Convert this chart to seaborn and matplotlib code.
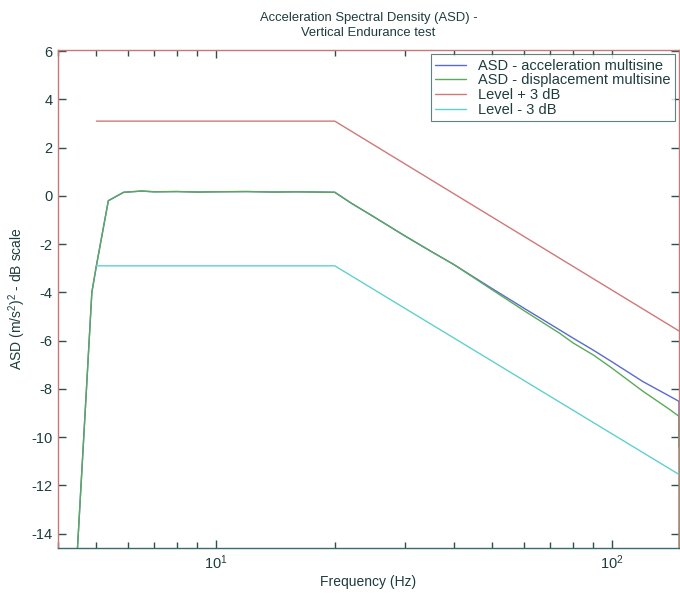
import numpy as np
import pandas as pd
import matplotlib
matplotlib.use("Agg")
import matplotlib.pyplot as plt
from matplotlib.ticker import LogLocator, NullFormatter, FixedLocator
import seaborn as sns

# ---- data ----
freq_acc = [4.48, 4.72, 4.87, 5.0, 5.36, 5.86, 6.5, 7.0, 8.0, 9.0, 10.0, 12.0, 14.0,
            16.0, 18.0, 20.0, 22.0, 25.0, 30.0, 35.0, 40.0, 50.0, 60.0, 74.0, 80.0,
            90.0, 100.0, 120.0, 140.0, 148.0, 148.0]
asd_acc = [-14.6, -8.0, -4.0, -2.9, -0.2, 0.15, 0.2, 0.17, 0.18, 0.16, 0.17, 0.18, 0.16,
           0.17, 0.16, 0.15, -0.3, -0.85, -1.65, -2.3, -2.85, -3.85, -4.65, -5.56, -5.9,
           -6.4, -6.87, -7.7, -8.3, -8.52, -10.4]

freq_disp = [4.48, 4.72, 4.87, 5.0, 5.36, 5.86, 6.5, 7.0, 8.0, 9.0, 10.0, 12.0, 14.0,
             16.0, 18.0, 20.0, 22.0, 25.0, 30.0, 35.0, 40.0, 50.0, 60.0, 74.0, 80.0,
             90.0, 100.0, 120.0, 140.0, 148.0, 148.0]
asd_disp = [-14.6, -8.0, -4.0, -2.9, -0.2, 0.15, 0.2, 0.17, 0.18, 0.16, 0.17, 0.18, 0.16,
            0.17, 0.16, 0.15, -0.3, -0.85, -1.65, -2.3, -2.85, -3.9, -4.75, -5.7, -6.1,
            -6.6, -7.13, -8.1, -8.85, -9.14, -14.6]

freq_level = [5.0, 20.0, 148.0]
level_plus = [3.1, 3.1, -5.6]
level_minus = [-2.9, -2.9, -11.55]

labels = ["ASD - acceleration multisine", "ASD - displacement multisine",
          "Level + 3 dB", "Level - 3 dB"]
colors = ["#5a6ad0", "#5aaa5a", "#d07878", "#5fd0d0"]

y_ticks = [-14, -12, -10, -8, -6, -4, -2, 0, 2, 4, 6]

# ---- plot ----
txt = "#1e3c3c"
sns.set_style("ticks")
plt.rcParams["font.family"] = ["Liberation Sans", "DejaVu Sans"]
plt.rcParams["mathtext.fontset"] = "custom"
plt.rcParams["mathtext.rm"] = "Liberation Sans"
plt.rcParams["mathtext.it"] = "Liberation Sans:italic"
plt.rcParams["axes.unicode_minus"] = False

fig = plt.figure(figsize=(6.8, 5.93), dpi=100)
ax = fig.add_axes([0.0853, 0.0759, 0.9132, 0.8398])

series = [(freq_acc, asd_acc), (freq_disp, asd_disp),
          (freq_level, level_plus), (freq_level, level_minus)]
for (fx, fy), lab, col in zip(series, labels, colors):
    df = pd.DataFrame({"f": fx, "v": fy})
    sns.lineplot(data=df, x="f", y="v", ax=ax, color=col, label=lab,
                 estimator=None, sort=False, linewidth=1.0)

ax.set_xscale("log")
ax.set_xlim(4.0, 148.0)
ax.set_ylim(-14.6, 6.05)
ax.yaxis.set_major_locator(FixedLocator(y_ticks))
ax.xaxis.set_major_locator(LogLocator(base=10))
ax.xaxis.set_minor_locator(LogLocator(base=10, subs=np.arange(2, 10)))
ax.xaxis.set_minor_formatter(NullFormatter())

ax.tick_params(axis="both", which="both", direction="in", top=True, right=True,
               bottom=True, left=True, color="#2a5050", labelsize=10.5,
               labelcolor=txt)
ax.tick_params(axis="both", which="major", length=6, width=1.0, pad=4)
ax.tick_params(axis="both", which="minor", length=4, width=1.0)

for side in ["left", "top", "right"]:
    ax.spines[side].set_color("#c87878")
    ax.spines[side].set_linewidth(1.0)
ax.spines["bottom"].set_color("#3c6a6a")
ax.spines["bottom"].set_linewidth(1.0)

ax.set_xlabel("Frequency (Hz)", fontsize=10, color=txt, labelpad=2)
ax.set_ylabel("ASD (m/s$^2$)$^2$ - dB scale", fontsize=10, color=txt, labelpad=2)
ax.set_title("Acceleration Spectral Density (ASD) -\nVertical Endurance test",
             fontsize=9.4, color=txt, pad=10, linespacing=1.35)

leg = ax.legend(loc="upper right", fontsize=10.5, frameon=True, fancybox=False,
                borderaxespad=0.3, handlelength=2.1, labelspacing=0.05,
                borderpad=0.3, handletextpad=0.8)
leg.get_frame().set_edgecolor("#3a6060")
leg.get_frame().set_linewidth(0.8)
for t in leg.get_texts():
    t.set_color(txt)

fig.savefig("out.png", dpi=100)
